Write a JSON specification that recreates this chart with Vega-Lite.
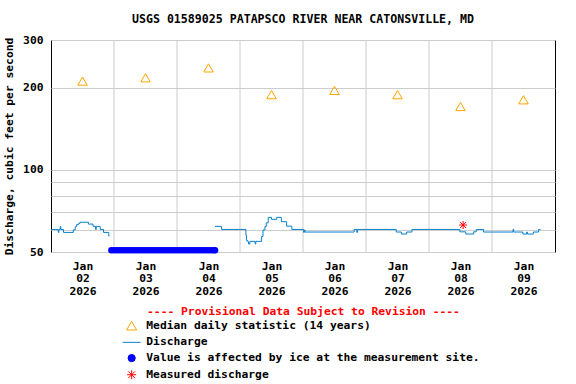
{
  "$schema": "https://vega.github.io/schema/vega-lite/v6.json",
  "width": 504,
  "height": 212,
  "autosize": {"type": "none"},
  "padding": {"left": 51, "top": 40, "right": 21, "bottom": 132},
  "background": "#ffffff",
  "title": {"text": "USGS 01589025 PATAPSCO RIVER NEAR CATONSVILLE, MD", "font": "DejaVu Sans Mono", "fontSize": 11.6, "fontWeight": "bold", "color": "#000000", "anchor": "middle", "frame": "group", "offset": 8},
  "datasets": {
    "grid": [
      {"t": "2026-01-03T00:00"}, {"t": "2026-01-04T00:00"}, {"t": "2026-01-05T00:00"}, {"t": "2026-01-06T00:00"},
      {"t": "2026-01-07T00:00"}, {"t": "2026-01-08T00:00"}, {"t": "2026-01-09T00:00"}
    ],
    "median": [
      {"t": "2026-01-02T12:00", "v": 212, "series": "Median daily statistic (14 years)"},
      {"t": "2026-01-03T12:00", "v": 218, "series": "Median daily statistic (14 years)"},
      {"t": "2026-01-04T12:00", "v": 237, "series": "Median daily statistic (14 years)"},
      {"t": "2026-01-05T12:00", "v": 189, "series": "Median daily statistic (14 years)"},
      {"t": "2026-01-06T12:00", "v": 196, "series": "Median daily statistic (14 years)"},
      {"t": "2026-01-07T12:00", "v": 189, "series": "Median daily statistic (14 years)"},
      {"t": "2026-01-08T12:00", "v": 171, "series": "Median daily statistic (14 years)"},
      {"t": "2026-01-09T12:00", "v": 181, "series": "Median daily statistic (14 years)"}
    ],
    "discharge": [
      {"seg": "A", "t": "2026-01-02T00:00", "v": 60.5},
      {"seg": "A", "t": "2026-01-02T02:45", "v": 59.0},
      {"seg": "A", "t": "2026-01-02T03:00", "v": 60.5},
      {"seg": "A", "t": "2026-01-02T03:30", "v": 62.0},
      {"seg": "A", "t": "2026-01-02T03:45", "v": 60.5},
      {"seg": "A", "t": "2026-01-02T04:45", "v": 59.0},
      {"seg": "A", "t": "2026-01-02T08:30", "v": 60.3},
      {"seg": "A", "t": "2026-01-02T09:15", "v": 61.9},
      {"seg": "A", "t": "2026-01-02T09:45", "v": 63.0},
      {"seg": "A", "t": "2026-01-02T10:30", "v": 63.6},
      {"seg": "A", "t": "2026-01-02T11:00", "v": 64.3},
      {"seg": "A", "t": "2026-01-02T14:15", "v": 63.3},
      {"seg": "A", "t": "2026-01-02T16:00", "v": 62.1},
      {"seg": "A", "t": "2026-01-02T17:00", "v": 60.5},
      {"seg": "A", "t": "2026-01-02T17:15", "v": 62.1},
      {"seg": "A", "t": "2026-01-02T18:45", "v": 60.5},
      {"seg": "A", "t": "2026-01-02T20:00", "v": 59.0},
      {"seg": "A", "t": "2026-01-02T22:00", "v": 57.2},
      {"seg": "A", "t": "2026-01-02T22:15", "v": 57.2},
      {"seg": "B", "t": "2026-01-04T14:30", "v": 62.1},
      {"seg": "B", "t": "2026-01-04T17:00", "v": 60.5},
      {"seg": "B", "t": "2026-01-05T02:15", "v": 57.5},
      {"seg": "B", "t": "2026-01-05T02:30", "v": 55.0},
      {"seg": "B", "t": "2026-01-05T03:00", "v": 54.5},
      {"seg": "B", "t": "2026-01-05T03:15", "v": 53.5},
      {"seg": "B", "t": "2026-01-05T03:45", "v": 54.7},
      {"seg": "B", "t": "2026-01-05T05:45", "v": 53.5},
      {"seg": "B", "t": "2026-01-05T06:00", "v": 54.7},
      {"seg": "B", "t": "2026-01-05T08:15", "v": 57.0},
      {"seg": "B", "t": "2026-01-05T08:45", "v": 60.2},
      {"seg": "B", "t": "2026-01-05T09:30", "v": 62.0},
      {"seg": "B", "t": "2026-01-05T10:00", "v": 64.0},
      {"seg": "B", "t": "2026-01-05T10:45", "v": 67.0},
      {"seg": "B", "t": "2026-01-05T12:00", "v": 65.9},
      {"seg": "B", "t": "2026-01-05T14:00", "v": 67.0},
      {"seg": "B", "t": "2026-01-05T15:45", "v": 64.6},
      {"seg": "B", "t": "2026-01-05T17:45", "v": 62.2},
      {"seg": "B", "t": "2026-01-05T19:45", "v": 60.5},
      {"seg": "B", "t": "2026-01-06T00:15", "v": 59.0},
      {"seg": "B", "t": "2026-01-06T00:30", "v": 60.2},
      {"seg": "B", "t": "2026-01-06T00:45", "v": 59.2},
      {"seg": "B", "t": "2026-01-06T19:30", "v": 60.5},
      {"seg": "B", "t": "2026-01-06T20:30", "v": 59.0},
      {"seg": "B", "t": "2026-01-06T20:45", "v": 60.5},
      {"seg": "B", "t": "2026-01-07T11:30", "v": 59.2},
      {"seg": "B", "t": "2026-01-07T13:30", "v": 58.2},
      {"seg": "B", "t": "2026-01-07T15:30", "v": 59.2},
      {"seg": "B", "t": "2026-01-07T17:30", "v": 60.5},
      {"seg": "B", "t": "2026-01-08T11:45", "v": 59.3},
      {"seg": "B", "t": "2026-01-08T14:00", "v": 58.2},
      {"seg": "B", "t": "2026-01-08T17:00", "v": 59.3},
      {"seg": "B", "t": "2026-01-08T18:00", "v": 60.5},
      {"seg": "B", "t": "2026-01-08T20:45", "v": 59.2},
      {"seg": "B", "t": "2026-01-09T08:00", "v": 60.5},
      {"seg": "B", "t": "2026-01-09T08:15", "v": 59.2},
      {"seg": "B", "t": "2026-01-09T11:45", "v": 58.2},
      {"seg": "B", "t": "2026-01-09T13:15", "v": 59.2},
      {"seg": "B", "t": "2026-01-09T13:30", "v": 58.2},
      {"seg": "B", "t": "2026-01-09T15:45", "v": 59.2},
      {"seg": "B", "t": "2026-01-09T17:45", "v": 60.5},
      {"seg": "B", "t": "2026-01-09T18:30", "v": 60.5}
    ],
    "ice": [
      {"t": "2026-01-02T23:00", "v": 50.7}, {"t": "2026-01-03T00:00", "v": 50.7}, {"t": "2026-01-03T01:00", "v": 50.7},
      {"t": "2026-01-03T02:00", "v": 50.7}, {"t": "2026-01-03T03:00", "v": 50.7}, {"t": "2026-01-03T04:00", "v": 50.7},
      {"t": "2026-01-03T05:00", "v": 50.7}, {"t": "2026-01-03T06:00", "v": 50.7}, {"t": "2026-01-03T07:00", "v": 50.7},
      {"t": "2026-01-03T08:00", "v": 50.7}, {"t": "2026-01-03T09:00", "v": 50.7}, {"t": "2026-01-03T10:00", "v": 50.7},
      {"t": "2026-01-03T11:00", "v": 50.7}, {"t": "2026-01-03T12:00", "v": 50.7}, {"t": "2026-01-03T13:00", "v": 50.7},
      {"t": "2026-01-03T14:00", "v": 50.7}, {"t": "2026-01-03T15:00", "v": 50.7}, {"t": "2026-01-03T16:00", "v": 50.7},
      {"t": "2026-01-03T17:00", "v": 50.7}, {"t": "2026-01-03T18:00", "v": 50.7}, {"t": "2026-01-03T19:00", "v": 50.7},
      {"t": "2026-01-03T20:00", "v": 50.7}, {"t": "2026-01-03T21:00", "v": 50.7}, {"t": "2026-01-03T22:00", "v": 50.7},
      {"t": "2026-01-03T23:00", "v": 50.7}, {"t": "2026-01-04T00:00", "v": 50.7}, {"t": "2026-01-04T01:00", "v": 50.7},
      {"t": "2026-01-04T02:00", "v": 50.7}, {"t": "2026-01-04T03:00", "v": 50.7}, {"t": "2026-01-04T04:00", "v": 50.7},
      {"t": "2026-01-04T05:00", "v": 50.7}, {"t": "2026-01-04T06:00", "v": 50.7}, {"t": "2026-01-04T07:00", "v": 50.7},
      {"t": "2026-01-04T08:00", "v": 50.7}, {"t": "2026-01-04T09:00", "v": 50.7}, {"t": "2026-01-04T10:00", "v": 50.7},
      {"t": "2026-01-04T11:00", "v": 50.7}, {"t": "2026-01-04T12:00", "v": 50.7}, {"t": "2026-01-04T13:00", "v": 50.7},
      {"t": "2026-01-04T14:00", "v": 50.7}, {"t": "2026-01-04T14:30", "v": 50.7}
    ],
    "measured": [
      {"t": "2026-01-08T13:00", "v": 62.8}
    ]
  },
  "encoding": {
    "x": {
      "field": "t", "type": "temporal",
      "scale": {"domain": [{"year": 2026, "month": 1, "date": 2}, {"year": 2026, "month": 1, "date": 10}], "nice": false},
      "axis": {
        "title": "---- Provisional Data Subject to Revision ----",
        "titleColor": "#ff0000",
        "titlePadding": 9,
        "grid": false,
        "values": [
          {"year": 2026, "month": 1, "date": 2, "hours": 12},
          {"year": 2026, "month": 1, "date": 3, "hours": 12},
          {"year": 2026, "month": 1, "date": 4, "hours": 12},
          {"year": 2026, "month": 1, "date": 5, "hours": 12},
          {"year": 2026, "month": 1, "date": 6, "hours": 12},
          {"year": 2026, "month": 1, "date": 7, "hours": 12},
          {"year": 2026, "month": 1, "date": 8, "hours": 12},
          {"year": 2026, "month": 1, "date": 9, "hours": 12}
        ],
        "labelExpr": "[timeFormat(datum.value, '%b'), timeFormat(datum.value, '%d'), timeFormat(datum.value, '%Y')]",
        "labelLineHeight": 12.8,
        "labelPadding": 8
      }
    },
    "y": {
      "field": "v", "type": "quantitative",
      "scale": {"type": "log", "domain": [50, 300], "nice": false},
      "axis": {
        "title": "Discharge, cubic feet per second",
        "titlePadding": 8,
        "grid": true,
        "values": [50, 60, 70, 80, 90, 100, 200, 300],
        "labelExpr": "indexof([50, 100, 200, 300], datum.value) >= 0 ? format(datum.value, 'd') : ''",
        "labelPadding": 8
      }
    },
    "color": {
      "field": "series", "type": "nominal",
      "scale": {
        "domain": ["Median daily statistic (14 years)", "Discharge", "Value is affected by ice at the measurement site.", "Measured discharge"],
        "range": ["#ffa500", "#0a80cc", "#0000ff", "#ff0000"]
      },
      "legend": {
        "title": null,
        "symbolFillColor": "transparent",
        "encode": {
          "symbols": {
            "update": {
              "shape": {"signal": "datum.value === 'Median daily statistic (14 years)' ? 'triangle-up' : datum.value === 'Discharge' ? 'stroke' : datum.value === 'Measured discharge' ? 'M-1,0L1,0M0,-1L0,1M-0.75,-0.75L0.75,0.75M-0.75,0.75L0.75,-0.75' : 'circle'"},
              "size": {"signal": "datum.value === 'Median daily statistic (14 years)' ? 100 : datum.value === 'Discharge' ? 324 : datum.value === 'Measured discharge' ? 81 : 52"},
              "fill": {"signal": "datum.value === 'Value is affected by ice at the measurement site.' ? '#0000ff' : 'transparent'"},
              "fillOpacity": {"signal": "datum.value === 'Value is affected by ice at the measurement site.' ? 1 : 0"},
              "stroke": {"signal": "datum.value === 'Median daily statistic (14 years)' ? '#ffa500' : datum.value === 'Discharge' ? '#0a80cc' : datum.value === 'Measured discharge' ? '#ff0000' : 'transparent'"},
              "strokeWidth": {"value": 1},
              "opacity": {"value": 1}
            }
          }
        }
      }
    }
  },
  "layer": [
    {
      "data": {"name": "grid"},
      "mark": {"type": "rule", "color": "#cccccc", "strokeWidth": 1},
      "encoding": {"y": null, "color": null}
    },
    {
      "data": {"name": "median"},
      "mark": {"type": "point", "shape": "triangle-up", "filled": false, "size": 90, "strokeWidth": 1, "opacity": 1}
    },
    {
      "data": {"name": "discharge"},
      "transform": [{"calculate": "'Discharge'", "as": "series"}],
      "mark": {"type": "line", "interpolate": "step-after", "strokeWidth": 1},
      "encoding": {
        "detail": {"field": "seg"}
      }
    },
    {
      "data": {"name": "ice"},
      "transform": [{"calculate": "'Value is affected by ice at the measurement site.'", "as": "series"}],
      "mark": {"type": "point", "shape": "circle", "filled": true, "size": 42, "opacity": 1}
    },
    {
      "data": {"name": "measured"},
      "transform": [{"calculate": "'Measured discharge'", "as": "series"}],
      "mark": {"type": "point", "shape": "M-1,0L1,0M0,-1L0,1M-0.75,-0.75L0.75,0.75M-0.75,0.75L0.75,-0.75", "filled": false, "size": 64, "strokeWidth": 1, "opacity": 1}
    }
  ],
  "config": {
    "font": "DejaVu Sans Mono",
    "view": {"stroke": "#000000", "strokeWidth": 1},
    "axis": {
      "labelFont": "DejaVu Sans Mono", "labelFontWeight": "bold", "labelFontSize": 11.3, "labelColor": "#000000",
      "titleFont": "DejaVu Sans Mono", "titleFontWeight": "bold", "titleFontSize": 11.3, "titleColor": "#000000",
      "domain": false, "ticks": false, "gridColor": "#cccccc", "gridWidth": 1, "gridOpacity": 1
    },
    "legend": {
      "orient": "none", "legendX": 75, "legendY": 280, "padding": 0,
      "labelFont": "DejaVu Sans Mono", "labelFontWeight": "bold", "labelFontSize": 11.3, "labelColor": "#000000",
      "labelLimit": 0, "labelOffset": 9, "rowPadding": 3.7, "symbolSize": 100, "symbolStrokeWidth": 1
    }
  }
}
